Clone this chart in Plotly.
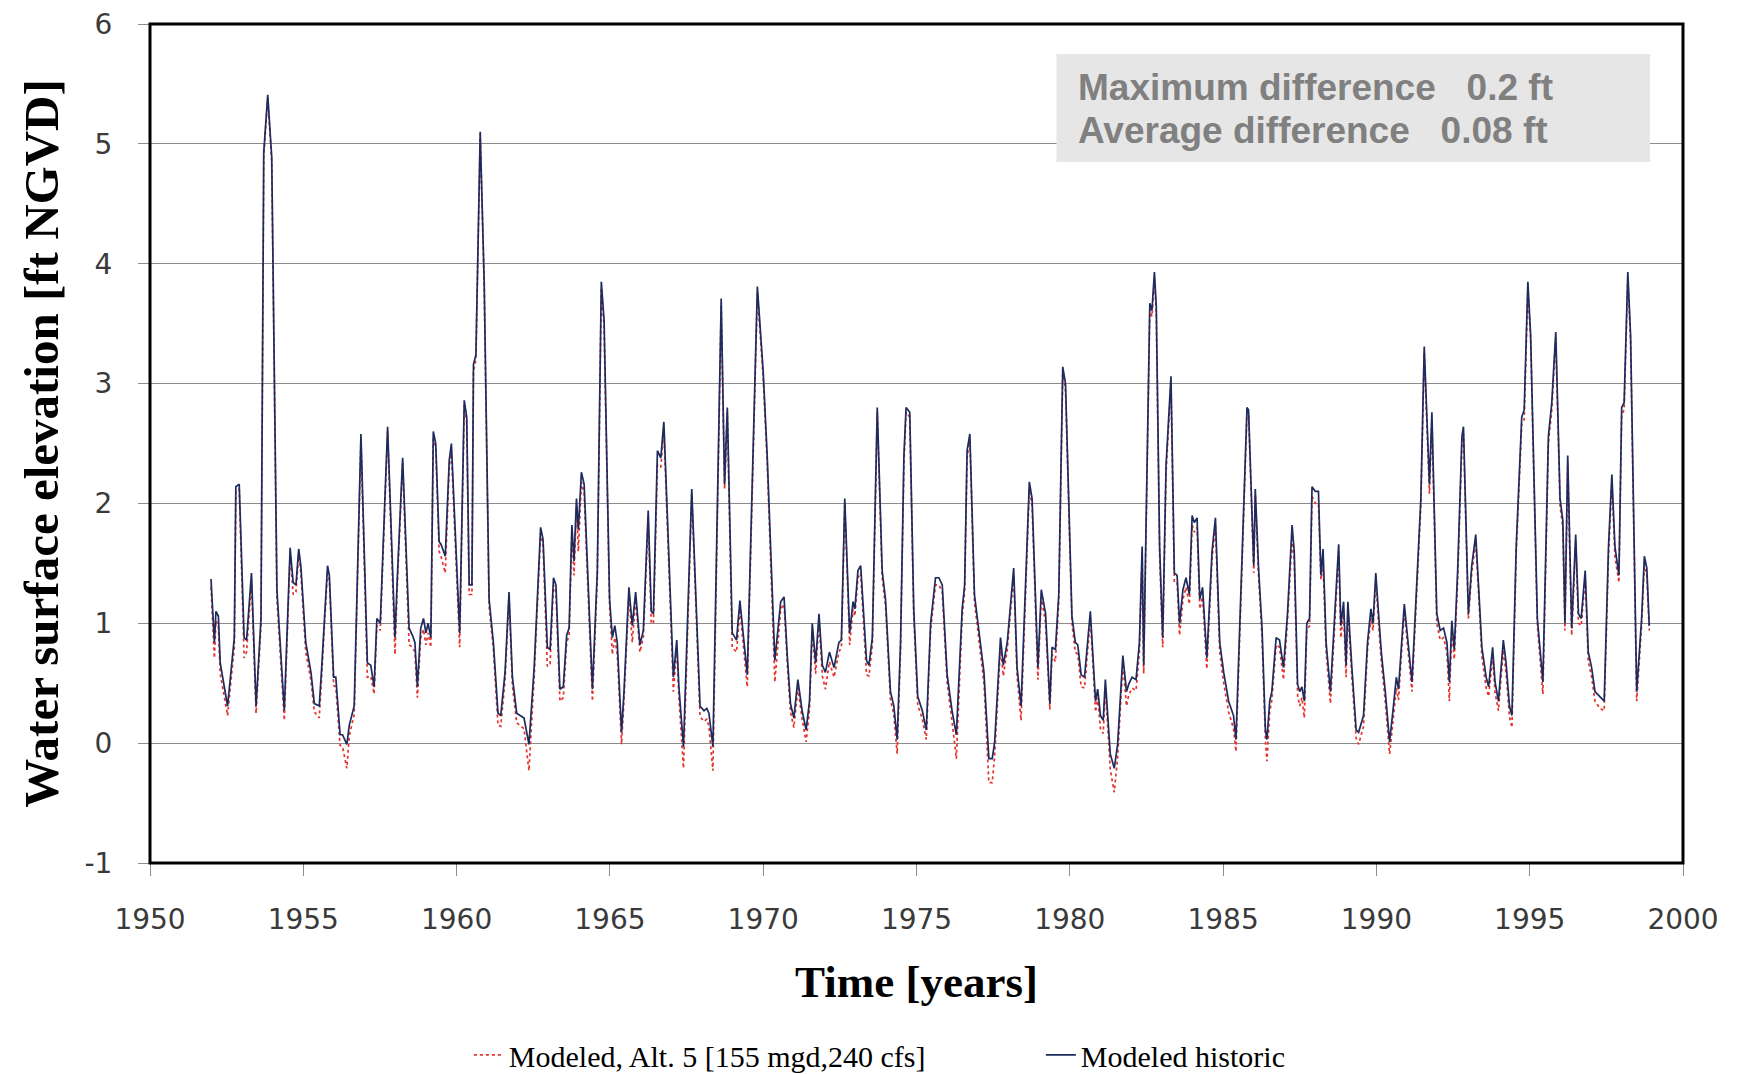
import plotly.graph_objects as go

# ---- data (decimal year, ft NGVD) ----
years_52 = [1951.99, 1952.10, 1952.15, 1952.23, 1952.29, 1952.53, 1952.75, 1952.80, 1952.91, 1953.07,
            1953.15, 1953.31, 1953.46, 1953.62, 1953.71, 1953.84, 1953.97, 1954.14, 1954.38, 1954.57,
            1954.67, 1954.76, 1954.85, 1954.92, 1955.08, 1955.25, 1955.36, 1955.52, 1955.60, 1955.79,
            1955.85, 1955.99, 1956.06, 1956.20, 1956.28, 1956.42, 1956.50, 1956.66, 1956.88, 1957.09,
            1957.20, 1957.31, 1957.40, 1957.51, 1957.75, 1957.99, 1958.07, 1958.24, 1958.45]
hist_52 = [1.37, 0.84, 1.10, 1.06, 0.67, 0.31, 0.88, 2.14, 2.16, 0.88,
           0.86, 1.42, 0.31, 1.04, 4.93, 5.41, 4.89, 1.28, 0.27, 1.63,
           1.34, 1.32, 1.62, 1.48, 0.84, 0.59, 0.33, 0.31, 0.63, 1.48,
           1.40, 0.55, 0.55, 0.07, 0.07, -0.01, 0.15, 0.31, 2.58, 0.67,
           0.65, 0.47, 1.04, 1.00, 2.64, 0.88, 1.40, 2.38, 0.96]
alt_52 = [1.30, 0.71, 1.02, 0.98, 0.58, 0.23, 0.80, 2.10, 2.12, 0.71,
          0.76, 1.36, 0.25, 0.98, 4.90, 5.38, 4.86, 1.20, 0.19, 1.58,
          1.24, 1.26, 1.58, 1.42, 0.76, 0.52, 0.26, 0.21, 0.56, 1.44,
          1.36, 0.48, 0.47, -0.02, -0.03, -0.21, 0.06, 0.24, 2.54, 0.55,
          0.56, 0.41, 0.98, 0.94, 2.60, 0.74, 1.34, 2.34, 0.82]

years_58 = [1958.56, 1958.64, 1958.72, 1958.83, 1958.92, 1959.00, 1959.07, 1959.16, 1959.24, 1959.32,
            1959.43, 1959.49, 1959.63, 1959.76, 1959.83, 1960.10, 1960.25, 1960.33, 1960.41, 1960.50,
            1960.55, 1960.63, 1960.77, 1960.90, 1961.06, 1961.20, 1961.35, 1961.44, 1961.58, 1961.71,
            1961.82, 1961.96, 1962.20, 1962.36, 1962.53, 1962.74, 1962.82, 1962.96, 1963.05, 1963.16,
            1963.24, 1963.37, 1963.48, 1963.59, 1963.67, 1963.76, 1963.83, 1963.91, 1963.97, 1964.07,
            1964.16, 1964.43, 1964.59, 1964.72, 1964.81, 1964.99, 1965.08, 1965.16, 1965.24, 1965.38]
hist_58 = [0.90, 0.84, 0.47, 0.96, 1.04, 0.92, 1.00, 0.88, 2.60, 2.50,
           1.68, 1.66, 1.56, 2.36, 2.50, 0.92, 2.86, 2.72, 1.32, 1.32,
           3.16, 3.24, 5.10, 3.85, 1.20, 0.84, 0.25, 0.23, 0.59, 1.26,
           0.55, 0.25, 0.21, -0.01, 0.63, 1.80, 1.70, 0.80, 0.78, 1.38,
           1.32, 0.45, 0.47, 0.90, 0.96, 1.82, 1.52, 2.04, 1.78, 2.26,
           2.16, 0.45, 1.44, 3.85, 3.53, 1.20, 0.88, 0.98, 0.84, 0.09]
alt_58 = [0.80, 0.76, 0.38, 0.88, 0.95, 0.82, 0.92, 0.80, 2.56, 2.46,
          1.60, 1.56, 1.42, 2.30, 2.44, 0.80, 2.82, 2.68, 1.24, 1.24,
          3.10, 3.20, 5.08, 3.80, 1.14, 0.78, 0.15, 0.14, 0.52, 1.22,
          0.48, 0.17, 0.12, -0.23, 0.55, 1.75, 1.65, 0.64, 0.66, 1.32,
          1.26, 0.35, 0.38, 0.84, 0.90, 1.76, 1.40, 1.98, 1.60, 2.18,
          2.08, 0.35, 1.38, 3.80, 3.48, 1.14, 0.74, 0.88, 0.74, -0.01]

years_65 = [1965.46, 1965.62, 1965.73, 1965.84, 1965.98, 1966.09, 1966.25, 1966.35, 1966.42, 1966.55,
            1966.66, 1966.76, 1967.07, 1967.18, 1967.25, 1967.40, 1967.53, 1967.67, 1967.94, 1968.07,
            1968.16, 1968.23, 1968.36, 1968.50, 1968.63, 1968.74, 1968.83, 1968.99, 1969.13, 1969.24,
            1969.48, 1969.81, 1970.00, 1970.13, 1970.38, 1970.57, 1970.68, 1970.79, 1970.89, 1971.00,
            1971.13, 1971.27, 1971.40, 1971.51, 1971.60, 1971.71, 1971.82, 1971.93, 1972.03, 1972.16,
            1972.31, 1972.47]
hist_65 = [0.43, 1.30, 0.98, 1.26, 0.82, 0.94, 1.94, 1.10, 1.08, 2.44,
           2.38, 2.68, 0.55, 0.86, 0.47, -0.03, 1.04, 2.12, 0.31, 0.27,
           0.29, 0.25, -0.03, 2.04, 3.71, 2.16, 2.80, 0.92, 0.86, 1.19,
           0.57, 3.81, 3.10, 2.40, 0.69, 1.18, 1.22, 0.71, 0.33, 0.21,
           0.53, 0.27, 0.11, 0.35, 1.00, 0.67, 1.08, 0.65, 0.59, 0.76,
           0.63, 0.84]
alt_65 = [0.36, 1.24, 0.84, 1.20, 0.76, 0.88, 1.88, 1.00, 1.00, 2.32,
          2.30, 2.62, 0.43, 0.80, 0.38, -0.21, 0.98, 2.08, 0.22, 0.18,
          0.20, 0.14, -0.23, 1.96, 3.66, 2.12, 2.76, 0.80, 0.76, 1.12,
          0.47, 3.76, 3.04, 2.34, 0.51, 1.12, 1.16, 0.64, 0.26, 0.13,
          0.46, 0.20, 0.01, 0.28, 0.94, 0.58, 1.02, 0.56, 0.45, 0.68,
          0.55, 0.76]

years_72 = [1972.55, 1972.66, 1972.82, 1972.93, 1972.99, 1973.09, 1973.18, 1973.37, 1973.45, 1973.56,
            1973.72, 1973.88, 1973.99, 1974.15, 1974.26, 1974.37, 1974.48, 1974.59, 1974.66, 1974.78,
            1974.91, 1975.04, 1975.19, 1975.32, 1975.46, 1975.62, 1975.73, 1975.84, 1976.00, 1976.16,
            1976.30, 1976.49, 1976.57, 1976.65, 1976.74, 1976.89, 1977.03, 1977.20, 1977.36, 1977.47,
            1977.55, 1977.74, 1977.83, 1977.96, 1978.17, 1978.28, 1978.41, 1978.55, 1978.68, 1978.77,
            1978.96, 1979.07, 1979.21]
hist_72 = [0.86, 2.04, 0.92, 1.18, 1.12, 1.44, 1.48, 0.69, 0.65, 0.88,
           2.80, 1.44, 1.20, 0.43, 0.31, 0.03, 0.84, 2.40, 2.80, 2.76,
           1.12, 0.39, 0.27, 0.11, 1.00, 1.38, 1.38, 1.32, 0.57, 0.27,
           0.07, 1.12, 1.32, 2.44, 2.58, 1.24, 0.96, 0.59, -0.13, -0.13,
           0.01, 0.88, 0.65, 0.84, 1.46, 0.63, 0.31, 1.32, 2.18, 2.04,
           0.63, 1.28, 1.08]
alt_72 = [0.80, 2.00, 0.82, 1.12, 1.06, 1.38, 1.42, 0.57, 0.56, 0.82,
          2.76, 1.38, 1.14, 0.36, 0.24, -0.09, 0.78, 2.34, 2.76, 2.72,
          1.06, 0.32, 0.20, 0.03, 0.94, 1.32, 1.32, 1.26, 0.50, 0.18,
          -0.13, 1.06, 1.26, 2.38, 2.54, 1.18, 0.88, 0.50, -0.33, -0.33,
          -0.10, 0.80, 0.56, 0.78, 1.40, 0.56, 0.19, 1.26, 2.12, 1.98,
          0.53, 1.22, 1.00]

years_79 = [1979.35, 1979.42, 1979.53, 1979.64, 1979.77, 1979.86, 1980.07, 1980.18, 1980.26, 1980.37,
            1980.48, 1980.67, 1980.84, 1980.91, 1981.00, 1981.09, 1981.16, 1981.32, 1981.45, 1981.56,
            1981.73, 1981.85, 1981.92, 1982.03, 1982.16, 1982.27, 1982.36, 1982.41, 1982.61, 1982.68,
            1982.76, 1982.82, 1982.93, 1983.03, 1983.14, 1983.30, 1983.41, 1983.50, 1983.58, 1983.69,
            1983.79, 1983.90, 1983.99, 1984.06, 1984.15, 1984.24, 1984.33, 1984.47, 1984.64, 1984.75,
            1984.89, 1985.02, 1985.18, 1985.34, 1985.42, 1985.56, 1985.78, 1985.83, 1986.00]
hist_79 = [0.33, 0.80, 0.78, 1.24, 3.14, 3.00, 1.06, 0.84, 0.82, 0.57,
           0.55, 1.10, 0.35, 0.45, 0.23, 0.19, 0.53, -0.09, -0.21, -0.01,
           0.73, 0.43, 0.49, 0.55, 0.53, 0.84, 1.64, 0.65, 3.67, 3.61,
           3.93, 3.65, 1.64, 0.88, 2.32, 3.06, 1.42, 1.40, 1.00, 1.28,
           1.38, 1.24, 1.90, 1.84, 1.88, 1.20, 1.30, 0.71, 1.60, 1.88,
           0.84, 0.59, 0.35, 0.23, 0.03, 1.04, 2.80, 2.78, 1.48]
alt_79 = [0.28, 0.74, 0.68, 1.18, 3.08, 2.94, 1.00, 0.76, 0.74, 0.47,
          0.46, 1.04, 0.26, 0.38, 0.12, 0.08, 0.46, -0.22, -0.41, -0.12,
          0.66, 0.31, 0.40, 0.46, 0.44, 0.76, 1.58, 0.58, 3.62, 3.56,
          3.88, 3.60, 1.56, 0.80, 2.26, 3.00, 1.34, 1.34, 0.90, 1.20,
          1.30, 1.16, 1.82, 1.76, 1.80, 1.12, 1.22, 0.62, 1.54, 1.82,
          0.76, 0.50, 0.26, 0.12, -0.07, 0.98, 2.76, 2.74, 1.42]

years_86 = [1986.05, 1986.16, 1986.27, 1986.38, 1986.43, 1986.52, 1986.59, 1986.73, 1986.84, 1986.97,
            1987.10, 1987.25, 1987.32, 1987.43, 1987.50, 1987.57, 1987.65, 1987.73, 1987.82, 1987.90,
            1988.01, 1988.11, 1988.19, 1988.26, 1988.36, 1988.50, 1988.63, 1988.77, 1988.84, 1988.93,
            1989.01, 1989.07, 1989.20, 1989.34, 1989.42, 1989.58, 1989.71, 1989.82, 1989.89, 1989.98,
            1990.07, 1990.16, 1990.29, 1990.43, 1990.54, 1990.65, 1990.72, 1990.91, 1991.16, 1991.32,
            1991.45, 1991.56, 1991.68, 1991.73, 1991.81, 1991.97, 1992.08, 1992.19, 1992.30, 1992.38,
            1992.46, 1992.54, 1992.65, 1992.79, 1992.84]
hist_86 = [2.12, 1.44, 0.96, 0.11, 0.03, 0.35, 0.43, 0.88, 0.86, 0.63,
           1.08, 1.82, 1.60, 0.49, 0.43, 0.47, 0.35, 1.00, 1.04, 2.14,
           2.10, 2.10, 1.40, 1.62, 0.84, 0.43, 1.02, 1.66, 0.98, 1.18,
           0.65, 1.18, 0.63, 0.11, 0.09, 0.23, 0.84, 1.12, 1.00, 1.42,
           1.08, 0.76, 0.43, 0.01, 0.27, 0.55, 0.45, 1.16, 0.51, 1.32,
           2.04, 3.31, 2.48, 2.16, 2.76, 1.08, 0.94, 0.96, 0.84, 0.51,
           1.02, 0.78, 1.44, 2.56, 2.64]
alt_86 = [2.06, 1.38, 0.88, 0.02, -0.15, 0.26, 0.36, 0.82, 0.80, 0.53,
          1.02, 1.70, 1.52, 0.40, 0.31, 0.38, 0.21, 0.94, 0.98, 2.06,
          2.00, 2.00, 1.36, 1.50, 0.76, 0.33, 0.94, 1.60, 0.88, 1.10,
          0.55, 1.10, 0.55, 0.04, -0.01, 0.14, 0.78, 1.04, 0.94, 1.36,
          1.00, 0.68, 0.34, -0.09, 0.18, 0.46, 0.36, 1.10, 0.43, 1.26,
          1.98, 3.26, 2.42, 2.08, 2.70, 1.00, 0.86, 0.88, 0.76, 0.35,
          0.94, 0.70, 1.36, 2.50, 2.58]

years_93 = [1993.00, 1993.11, 1993.24, 1993.33, 1993.44, 1993.58, 1993.66, 1993.79, 1993.87, 1993.98,
            1994.14, 1994.23, 1994.34, 1994.42, 1994.56, 1994.74, 1994.82, 1994.94, 1995.03, 1995.25,
            1995.43, 1995.61, 1995.72, 1995.85, 1995.99, 1996.08, 1996.15, 1996.24, 1996.37, 1996.50,
            1996.59, 1996.68, 1996.81, 1996.91, 1997.02, 1997.13, 1997.29, 1997.43, 1997.57, 1997.68,
            1997.78, 1997.91, 1998.00, 1998.08, 1998.20, 1998.29, 1998.49, 1998.65, 1998.74, 1998.82,
            1998.90]
hist_93 = [1.08, 1.48, 1.74, 1.32, 0.80, 0.55, 0.47, 0.80, 0.51, 0.35,
           0.86, 0.67, 0.31, 0.23, 1.64, 2.72, 2.78, 3.85, 3.41, 1.04,
           0.51, 2.56, 2.84, 3.43, 2.04, 1.86, 1.00, 2.40, 0.96, 1.74,
           1.08, 1.04, 1.44, 0.76, 0.63, 0.43, 0.39, 0.35, 1.64, 2.24,
           1.64, 1.40, 2.80, 2.84, 3.93, 3.41, 0.43, 1.04, 1.56, 1.46,
           0.98]
alt_93 = [1.04, 1.42, 1.68, 1.26, 0.72, 0.46, 0.39, 0.72, 0.42, 0.27,
          0.78, 0.58, 0.22, 0.13, 1.58, 2.66, 2.70, 3.80, 3.36, 0.98,
          0.41, 2.50, 2.78, 3.38, 1.98, 1.80, 0.94, 2.34, 0.90, 1.68,
          1.00, 0.98, 1.38, 0.68, 0.55, 0.35, 0.29, 0.27, 1.56, 2.18,
          1.56, 1.34, 2.74, 2.78, 3.88, 3.36, 0.35, 0.98, 1.50, 1.40,
          0.94]

series_names = ["Modeled, Alt. 5 [155 mgd,240 cfs]", "Modeled historic"]
x_ticks = [1950, 1955, 1960, 1965, 1970, 1975, 1980, 1985, 1990, 1995, 2000]
y_ticks = [-1, 0, 1, 2, 3, 4, 5, 6]
y_tick_text = ["-1", "0", "1", "2", "3", "4", "5", "6"]
note_lines = ["Maximum difference\u00a0\u00a0\u00a00.2 ft", "Average difference\u00a0\u00a0\u00a00.08 ft"]

years = years_52 + years_58 + years_65 + years_72 + years_79 + years_86 + years_93
hist = hist_52 + hist_58 + hist_65 + hist_72 + hist_79 + hist_86 + hist_93
alt = alt_52 + alt_58 + alt_65 + alt_72 + alt_79 + alt_86 + alt_93

fig = go.Figure()
fig.add_trace(go.Scatter(x=years, y=alt, mode="lines", name=series_names[0],
                         line=dict(color="#e5322b", width=1.7, dash="dot")))
fig.add_trace(go.Scatter(x=years, y=hist, mode="lines", name=series_names[1],
                         line=dict(color="#1d2b5e", width=1.7)))

tick_font = dict(family="DejaVu Sans", size=28, color="#3a3a3a")
title_font_family = "Liberation Serif"

fig.update_layout(
    width=1739, height=1074,
    margin=dict(l=142, r=64, t=16, b=219, autoexpand=False),
    paper_bgcolor="white", plot_bgcolor="white",
    showlegend=True,
    legend=dict(orientation="h", x=0.208, y=-0.2288, xanchor="left", yanchor="middle",
                font=dict(family=title_font_family, size=30, color="black"),
                entrywidth=527, entrywidthmode="pixels", bgcolor="rgba(0,0,0,0)"),
)
fig.update_xaxes(range=[1950, 2000], tickvals=x_ticks, showgrid=False, zeroline=False, showline=False,
                 ticks="outside", ticklen=12, tickcolor="#8c8c8c", tickwidth=1,
                 tickfont=tick_font, ticklabelstandoff=19, ticklabeloverflow="allow",
                 title=dict(text="<b>Time [years]</b>", standoff=30,
                            font=dict(family=title_font_family, size=45, color="black")))
fig.update_yaxes(range=[-1, 6], tickvals=y_ticks, ticktext=y_tick_text,
                 showgrid=True, gridcolor="#8c8c8c", gridwidth=1,
                 zeroline=False, showline=False,
                 ticks="outside", ticklen=11, tickcolor="#8c8c8c", tickwidth=1,
                 tickfont=tick_font, ticklabelstandoff=20, ticklabeloverflow="allow",
                 title=dict(text="<b>Water surface elevation [ft NGVD]</b>", standoff=10,
                            font=dict(family=title_font_family, size=49, color="black")))

# plot frame
fig.add_shape(type="rect", xref="paper", yref="paper", x0=0, x1=1, y0=0, y1=1,
              line=dict(color="black", width=3), fillcolor="rgba(0,0,0,0)", layer="above")
# statistics box
fig.add_shape(type="rect", xref="paper", yref="paper", x0=0.5913, x1=0.9785, y0=0.8355, y1=0.9642,
              line=dict(width=0), fillcolor="#e6e6e6", layer="above")
for txt, yy in zip(note_lines, [0.9249, 0.8725]):
    fig.add_annotation(xref="paper", yref="paper", x=0.6043, y=yy, xanchor="left", yanchor="middle",
                       text="<b>" + txt + "</b>", showarrow=False,
                       font=dict(family="Liberation Sans", size=37, color="#808080"))

fig.write_html("out.html")
